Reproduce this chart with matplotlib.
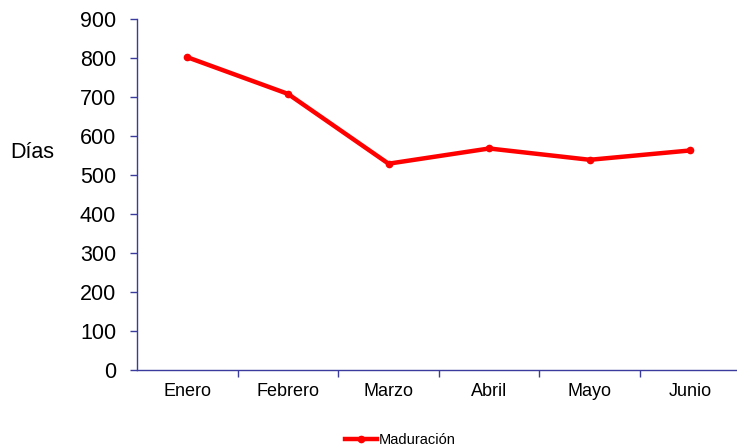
import matplotlib
matplotlib.use("Agg")
import matplotlib.pyplot as plt
import numpy as np

plt.rcParams['font.family'] = ['Liberation Sans', 'DejaVu Sans']

categories = ["Enero", "Febrero", "Marzo", "Abril", "Mayo", "Junio"]
values = [802, 708, 529, 568, 539, 563]
yticks = [0, 100, 200, 300, 400, 500, 600, 700, 800, 900]
series_name = "Maduración"

axis_color = "#3b3b9e"

fig = plt.figure(figsize=(7.37, 4.48), dpi=100)
ax = fig.add_axes([137/737, 1 - 370/448, 1 - 137/737 + 0.005, (370 - 19)/448])

x = np.arange(len(categories))
line, = ax.plot(x, values, color="#ff0000", lw=3.2, marker="o", markersize=4.5,
                solid_joinstyle="round", label=series_name)

ax.set_xlim(-0.5, len(categories) - 0.5)
ax.set_ylim(0, 900)
ax.set_yticks(yticks)
ax.set_yticklabels([str(v) for v in yticks], fontsize=15.5)

ax.set_xticks(np.arange(len(categories) - 1) + 0.5)
ax.set_xticklabels([])
ax.set_xticks(x, minor=True)
ax.set_xticklabels(categories, minor=True, fontsize=13)
ax.tick_params(axis='x', which='major', direction='out', length=5, color=axis_color, width=1)
ax.tick_params(axis='x', which='minor', length=0, pad=9)
ax.tick_params(axis='y', direction='out', length=5, color=axis_color, width=1, pad=10)

for s in ["top", "right"]:
    ax.spines[s].set_visible(False)
for s in ["left", "bottom"]:
    ax.spines[s].set_color(axis_color)
    ax.spines[s].set_linewidth(1)

fig.text(10/737, 1 - 152/448, "Días", fontsize=15.5, va="center", ha="left")

fig.legend(handles=[line], loc="center", bbox_to_anchor=(400/737, 1 - 440/448),
           frameon=False, fontsize=10.5, handlelength=2.2, handletextpad=0.1)

fig.savefig("out.png", dpi=100)
